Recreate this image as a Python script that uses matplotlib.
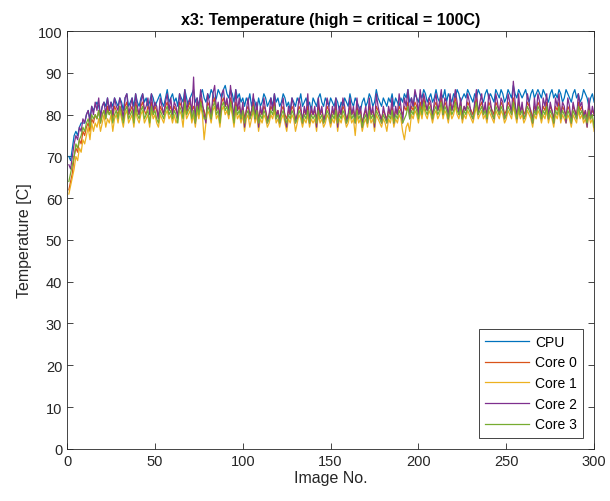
import numpy as np
import matplotlib.pyplot as plt

plt.rcParams['font.family'] = ['Liberation Sans', 'DejaVu Sans']

# temperature readings per image (deg C)
cpu = """
70 69 72 75 76 75 77 78 78 78 80 81 79 82 81 82 83 82 80 82 83 82 84 81 83 82 84 83 82 84
83 81 84 85 82 83 84 82 85 83 82 84 85 83 84 82 83 85 84 82 83 84 85 83 82 84 86 83 84 85
83 84 82 85 84 83 86 84 82 84 85 86 83 84 82 85 86 84 83 85 84 86 85 83 84 86 85 84 86 87
85 84 86 85 83 86 84 85 83 84 82 84 83 85 82 84 83 81 84 82 83 85 84 82 83 84 82 85 83 84
82 83 85 84 82 83 81 84 83 82 84 83 85 82 83 84 82 83 81 84 83 82 84 85 83 82 84 83 82 84
83 82 84 83 81 83 82 84 83 82 85 83 82 84 83 82 81 83 84 82 83 85 84 82 83 86 84 83 82 84
83 82 84 83 85 82 84 83 82 84 83 85 84 86 83 84 82 85 84 83 85 84 86 85 83 84 85 83 84 86
84 83 85 84 86 83 85 84 83 85 84 86 85 83 84 85 84 86 85 84 83 85 84 86 85 84 83 85 86 84
85 84 83 86 85 84 86 85 83 84 86 85 84 87 85 84 86 85 84 85 86 84 83 85 86 84 85 86 85 84
86 85 84 83 85 86 84 85 84 86 85 83 84 86 85 84 83 85 86 84 85 83 84 86 85 84 82 84 85 83
"""
core0 = """
62 64 66 70 72 71 74 73 76 75 77 78 76 79 78 80 79 81 78 80 81 79 82 80 81 79 82 81 80 82
81 79 82 83 80 81 82 79 83 81 80 82 83 81 80 82 81 83 80 82 81 79 82 81 80 82 83 81 82 80
82 81 80 83 82 81 84 80 82 83 81 82 80 83 81 84 82 81 79 83 82 80 83 84 81 82 80 83 84 82
83 81 84 82 80 83 81 82 80 82 79 81 82 80 81 83 80 82 79 81 80 82 81 79 80 82 81 83 80 81
79 81 82 80 79 81 80 82 81 79 80 82 81 79 81 80 82 79 81 80 81 79 82 80 81 79 80 82 81 79
81 80 82 79 81 80 82 81 79 80 82 80 81 79 82 80 81 78 80 81 79 82 80 81 79 82 81 80 79 81
80 79 81 80 82 79 81 80 82 81 80 82 81 83 80 82 81 83 82 80 83 81 84 82 81 83 82 80 82 83
81 82 84 81 83 82 80 83 81 82 84 82 81 83 80 82 81 83 82 81 80 82 84 81 82 83 81 82 80 83
82 81 80 83 82 81 83 82 80 81 83 82 81 84 82 80 83 81 82 80 81 83 82 81 79 82 81 83 82 80
82 81 83 80 82 81 79 82 81 83 80 82 81 80 82 81 79 82 81 80 83 81 82 80 81 79 82 80 81 80
"""
core1 = """
61 63 65 67 70 69 72 71 74 73 75 77 74 78 76 78 77 79 76 78 80 77 79 78 80 76 79 80 78 81
79 77 80 81 78 79 80 77 81 79 78 80 81 78 79 80 77 81 79 80 78 77 80 79 78 80 81 79 80 78
80 78 79 81 80 77 82 79 80 81 78 80 77 81 79 82 80 74 78 81 80 78 81 82 79 80 77 81 82 80
81 79 82 80 77 81 79 80 78 80 76 79 80 77 79 81 78 80 76 79 78 80 79 77 78 80 79 81 78 79
77 79 80 78 76 79 78 80 79 76 78 80 79 77 79 78 80 77 79 78 79 76 80 78 79 77 78 80 79 77
79 78 80 76 79 78 80 79 77 78 80 78 79 75 80 78 79 76 78 79 77 80 78 79 76 80 79 78 77 79
78 76 79 78 80 77 79 78 80 79 76 74 77 78 76 80 79 81 80 78 81 79 82 80 79 81 80 78 80 81
79 80 82 79 81 80 78 81 79 80 82 80 79 81 78 80 79 81 80 79 78 80 82 79 80 81 79 80 78 81
80 79 78 81 80 79 81 80 78 79 81 80 79 82 80 78 81 79 80 78 79 81 80 79 77 80 79 81 80 78
80 79 81 78 80 79 77 80 79 81 78 80 79 78 80 79 77 80 79 78 81 79 80 78 79 77 80 78 79 76
"""
core2 = """
68 67 70 73 75 74 77 76 79 78 80 81 78 82 80 83 81 84 79 82 83 80 84 81 83 80 84 82 81 84
82 79 84 85 80 82 84 79 85 82 80 83 85 81 82 84 80 85 81 83 82 79 84 82 80 83 85 81 84 80
83 82 79 85 83 80 86 81 83 84 80 89 78 84 81 86 83 80 78 85 83 79 85 87 81 83 79 85 86 82
84 80 87 83 79 86 81 84 79 83 77 81 84 79 81 85 79 83 77 82 80 84 81 78 80 84 81 85 79 81
78 82 84 79 77 82 80 84 82 78 80 84 82 78 82 80 85 78 82 80 82 77 84 80 82 78 80 84 82 78
82 80 84 77 82 80 84 82 78 80 84 80 82 78 84 80 82 77 80 82 78 84 80 82 77 85 82 80 78 82
80 78 82 80 84 78 82 80 85 82 78 84 82 86 79 84 82 86 84 80 86 82 85 83 81 84 83 79 83 85
81 83 86 80 84 83 79 85 81 83 86 83 80 84 79 82 81 85 83 80 79 83 86 80 83 85 80 83 79 85
83 80 79 85 83 80 84 83 79 80 85 83 80 88 83 79 85 80 83 79 80 85 83 80 78 84 80 85 83 79
84 82 85 79 83 81 78 84 82 85 79 83 82 78 84 82 78 83 81 79 85 82 83 79 81 77 84 79 82 80
"""
core3 = """
64 66 68 70 73 72 74 75 77 76 78 79 77 80 79 80 79 81 78 80 81 79 81 80 81 78 80 81 79 82
80 78 81 82 79 80 81 78 82 80 79 81 82 79 80 81 78 82 80 81 79 78 81 80 79 81 82 80 81 79
81 80 78 82 81 79 83 80 81 82 79 81 78 82 80 83 81 79 79 82 81 79 82 83 80 81 78 82 83 81
82 80 83 81 78 82 80 81 79 81 78 80 81 79 80 82 79 81 78 80 79 81 80 78 79 81 80 82 79 80
78 80 81 79 78 80 79 81 80 78 79 81 80 78 80 79 81 78 80 79 80 78 81 79 80 78 79 81 80 78
80 79 81 78 80 79 81 80 78 79 81 79 80 78 81 79 80 77 79 80 78 81 79 80 78 81 80 79 78 80
79 78 80 79 81 78 80 79 81 80 78 79 80 82 79 81 80 82 81 79 82 80 83 81 80 82 81 79 81 82
80 81 83 80 82 81 79 82 80 81 83 81 80 82 79 81 80 82 81 80 79 81 83 80 81 82 80 81 79 82
81 80 79 82 81 80 82 81 79 80 82 81 80 83 81 79 82 80 81 79 80 82 81 80 78 81 80 82 81 79
81 80 82 79 81 80 78 81 80 82 79 81 80 79 81 80 78 81 80 79 82 80 81 79 80 78 81 79 80 77
"""

labels = ['CPU', 'Core 0', 'Core 1', 'Core 2', 'Core 3']
series = [cpu, core0, core1, core2, core3]
colors = ['#0072BD', '#D95319', '#EDB120', '#7E2F8E', '#77AC30']

fig = plt.figure(figsize=(6.1, 5.02), dpi=100)
ax = fig.add_axes([0.110, 0.104, 0.864, 0.832])

for s, lab, c in zip(series, labels, colors):
    y = np.array(s.split(), dtype=float)
    x = np.arange(1, len(y) + 1)
    ax.plot(x, y, color=c, lw=0.9, label=lab)

ax.set_xlim(0, 300)
ax.set_ylim(0, 100)
ax.set_xticks(np.arange(0, 301, 50))
ax.set_yticks(np.arange(0, 101, 10))
ax.tick_params(direction='in', top=True, right=True, length=4, width=0.6,
               labelsize=10.5, colors='#262626')
for sp in ax.spines.values():
    sp.set_color('#262626')
    sp.set_linewidth(0.6)

ax.set_title('x3: Temperature (high = critical = 100C)', fontsize=11.5,
             fontweight='bold', color='black', pad=5)
ax.set_xlabel('Image No.', fontsize=11.5, color='#262626', labelpad=2)
ax.set_ylabel('Temperature [C]', fontsize=11.5, color='#262626', labelpad=4)

leg = ax.legend(loc='lower right', fontsize=10, frameon=True, fancybox=False,
                edgecolor='#262626', framealpha=1, borderaxespad=0.8,
                handlelength=3.2, labelspacing=0.48, borderpad=0.45,
                handletextpad=0.4)
leg.get_frame().set_linewidth(0.6)

fig.savefig('out.png', dpi=100)
